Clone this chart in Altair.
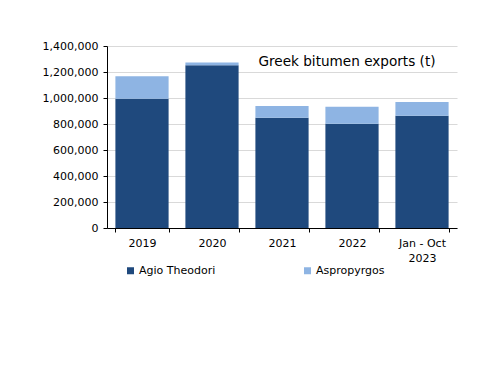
import altair as alt
import pandas as pd

categories = ["2019", "2020", "2021", "2022", "Jan - Oct\n2023"]
agio_theodori = [994000, 1252000, 848000, 802000, 864000]
aspropyrgos = [174000, 21000, 90000, 131000, 105000]
series_names = ["Agio Theodori", "Aspropyrgos"]
series_colors = ["#1F497D", "#8EB4E3"]
title_text = "Greek bitumen exports (t)"

rows = []
for c, a, b in zip(categories, agio_theodori, aspropyrgos):
    rows.append({"cat": c, "series": series_names[0], "value": a, "ord": 0})
    rows.append({"cat": c, "series": series_names[1], "value": b, "ord": 1})
df = pd.DataFrame(rows)

FONT = "DejaVu Sans"

bars = alt.Chart(df).mark_bar().encode(
    x=alt.X("cat:N", sort=categories, title=None,
            scale=alt.Scale(paddingInner=0.24, paddingOuter=0.12),
            axis=alt.Axis(labelAngle=0, tickBand="extent", tickSize=4,
                          labelPadding=5, domainColor="black", tickColor="black",
                          labelExpr="split(datum.label, '\\n')",
                          labelFont=FONT, labelFontSize=11, labelColor="black",
                          labelLineHeight=15)),
    y=alt.Y("value:Q", stack="zero", title=None,
            scale=alt.Scale(domain=[0, 1400000], nice=False),
            axis=alt.Axis(values=list(range(0, 1400001, 200000)), format=",.0f",
                          tickSize=4, labelPadding=5, grid=True,
                          gridColor="#d9d9d9", domainColor="black", tickColor="black",
                          labelFont=FONT, labelFontSize=11, labelColor="black")),
    color=alt.Color("series:N", scale=alt.Scale(domain=series_names, range=series_colors),
                    legend=alt.Legend(title=None, orient="none", direction="horizontal",
                                      columns=2, legendX=18, legendY=219,
                                      symbolType="square", symbolSize=49,
                                      symbolStrokeWidth=0, labelOffset=3,
                                      columnPadding=86,
                                      labelFont=FONT, labelFontSize=11, labelColor="black")),
    order=alt.Order("ord:Q", sort="ascending"),
)

title = alt.Chart(pd.DataFrame({"t": [title_text]})).mark_text(
    font=FONT, fontSize=13.6, align="center", baseline="middle", color="black"
).encode(x=alt.value(240), y=alt.value(16), text="t:N")

chart = alt.layer(bars, title).properties(
    width=350, height=182,
    padding={"left": 99, "top": 38, "right": 35, "bottom": 150},
    autosize=alt.AutoSizeParams(type="none"),
).configure_view(stroke=None).configure_axis(domainWidth=1, tickWidth=1)

chart.save("out.html", embed_options={"renderer": "svg", "actions": False})
